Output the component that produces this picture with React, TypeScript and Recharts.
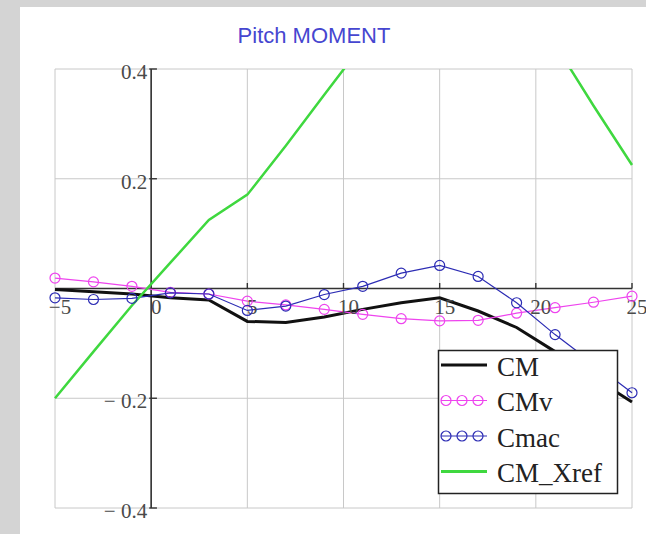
import React from "react";
import {
  LineChart,
  Line,
  XAxis,
  YAxis,
  CartesianGrid,
  ReferenceLine,
  ReferenceDot,
} from "recharts";

// angle of attack, deg
const alpha = [-5, -3, -1, 1, 3, 5, 7, 9, 11, 13, 15, 17, 19, 21, 23, 25];

const cm = [
  -0.002, -0.006, -0.01, -0.017, -0.021, -0.06, -0.062, -0.052, -0.038, -0.026,
  -0.017, -0.041, -0.071, -0.115, -0.162, -0.207,
];
const cmv = [
  0.019, 0.012, 0.004, -0.007, -0.01, -0.023, -0.03, -0.038, -0.047, -0.055,
  -0.059, -0.058, -0.045, -0.035, -0.025, -0.014,
];
const cmac = [
  -0.017, -0.02, -0.018, -0.008, -0.01, -0.04, -0.032, -0.011, 0.004, 0.028,
  0.042, 0.022, -0.026, -0.084, -0.137, -0.19,
];
const cmXref = [
  -0.2, -0.115, -0.031, 0.047, 0.125, 0.171, 0.26, 0.353, 0.445, 0.53, 0.6,
  0.63, 0.56, 0.445, 0.333, 0.225,
];

const xTicks = [-5, 0, 5, 10, 15, 20, 25];
const xTickLabels = ["\u22125", "0", "5", "10", "15", "20", "25"];
const yTicks = [-0.4, -0.2, 0, 0.2, 0.4];
const yLabelTicks = [-0.4, -0.2, 0.2, 0.4];
const yTickLabels = ["\u2212 0.4", "\u2212 0.2", "0.2", "0.4"];

const data = alpha.map((a, i) => ({
  alpha: a,
  CM: cm[i],
  CMv: cmv[i],
  Cmac: cmac[i],
  CM_Xref: cmXref[i],
}));

const series = [
  { key: "CM", color: "#111111", width: 3, marker: false },
  { key: "CMv", color: "#ee44ee", width: 1.2, marker: true },
  { key: "Cmac", color: "#2c2cb4", width: 1.2, marker: true },
  { key: "CM_Xref", color: "#3fd83f", width: 2.5, marker: false },
];

const serif = "'Liberation Serif', 'Times New Roman', serif";

const XLabel = (props: any) => {
  const vb = props.viewBox || {};
  return (
    <text
      x={vb.x + 5}
      y={vb.y + 25}
      textAnchor="middle"
      fontFamily={serif}
      fontSize={21}
      fill="#4a4a4a">
      {props.value}
    </text>
  );
};

const YLabel = (props: any) => {
  const vb = props.viewBox || {};
  return (
    <text
      x={vb.x - 4}
      y={vb.y + 10}
      textAnchor="end"
      fontFamily={serif}
      fontSize={21}
      fill="#4a4a4a">
      {props.value}
    </text>
  );
};

const LegendSample = ({ s, cy }: { s: any; cy: number }) => (
  <g>
    <line
      x1={441}
      x2={487}
      y1={cy}
      y2={cy}
      stroke={s.color}
      strokeWidth={s.marker ? 1.2 : 3}
    />
    {s.marker &&
      [446, 462, 478].map((cx) => (
        <circle
          key={cx}
          cx={cx}
          cy={cy}
          r={5}
          fill="none"
          stroke={s.color}
          strokeWidth={1.2}
        />
      ))}
  </g>
);

export default function App() {
  return (
    <div
      style={{
        position: "absolute",
        left: 0,
        top: 0,
        width: 646,
        height: 534,
        background: "#ffffff",
        overflow: "hidden",
      }}>
      <div
        style={{
          position: "absolute",
          left: 0,
          top: 0,
          width: 20,
          height: 534,
          background: "#d4d4d4",
        }}
      />
      <div
        style={{
          position: "absolute",
          left: 0,
          top: 0,
          width: 646,
          height: 7,
          background: "#d4d4d4",
        }}
      />
      <div style={{ position: "absolute", left: 0, top: 0 }}>
        <LineChart
          width={646}
          height={534}
          data={data}
          margin={{ top: 69, right: 14, bottom: 26, left: 55 }}>
          <CartesianGrid stroke="#c8c8c8" strokeWidth={1} />
          <XAxis
            type="number"
            dataKey="alpha"
            domain={[-5, 25]}
            ticks={xTicks}
            hide
          />
          <YAxis
            type="number"
            domain={[-0.4, 0.4]}
            ticks={yTicks}
            allowDataOverflow
            hide
          />
          <ReferenceLine x={0} stroke="#333333" strokeWidth={1.6} />
          <ReferenceLine y={0} stroke="#333333" strokeWidth={1.6} />
          {yLabelTicks.map((t) => (
            <ReferenceLine
              key={"yt" + t}
              segment={[
                { x: -0.1, y: t },
                { x: 0.3, y: t },
              ]}
              stroke="#333333"
              strokeWidth={1.4}
            />
          ))}
          {xTicks
            .filter((t) => t > 0)
            .map((t) => (
              <ReferenceLine
                key={"xt" + t}
                segment={[
                  { x: t, y: 0 },
                  { x: t, y: 0.01 },
                ]}
                stroke="#333333"
                strokeWidth={1.4}
              />
            ))}
          {xTicks.map((t, i) => (
            <ReferenceDot
              key={"xl" + t}
              x={t}
              y={0}
              r={0}
              fill="none"
              stroke="none"
              label={<XLabel value={xTickLabels[i]} />}
            />
          ))}
          {yLabelTicks.map((t, i) => (
            <ReferenceDot
              key={"yl" + t}
              x={0}
              y={t}
              r={0}
              fill="none"
              stroke="none"
              label={<YLabel value={yTickLabels[i]} />}
            />
          ))}
          {series.map((s) => (
            <Line
              key={s.key}
              type="linear"
              dataKey={s.key}
              stroke={s.color}
              strokeWidth={s.width}
              dot={
                s.marker
                  ? { r: 5, fill: "none", stroke: s.color, strokeWidth: 1.2 }
                  : false
              }
              activeDot={false}
              isAnimationActive={false}
            />
          ))}
        </LineChart>
      </div>
      <svg
        width={646}
        height={534}
        style={{ position: "absolute", left: 0, top: 0, pointerEvents: "none" }}>
        <text
          x={314}
          y={43}
          textAnchor="middle"
          fontFamily="'Liberation Sans', Arial, sans-serif"
          fontSize={22}
          fill="#4646d0">
          Pitch MOMENT
        </text>
        <rect
          x={438.5}
          y={350.5}
          width={179}
          height={143}
          fill="#ffffff"
          stroke="#222222"
          strokeWidth={1.5}
        />
        {series.map((s, i) => (
          <g key={s.key}>
            <LegendSample s={s} cy={365 + i * 35.5} />
            <text
              x={497}
              y={375.5 + i * 35.5}
              fontFamily={serif}
              fontSize={27}
              fill="#222222">
              {s.key}
            </text>
          </g>
        ))}
      </svg>
    </div>
  );
}
